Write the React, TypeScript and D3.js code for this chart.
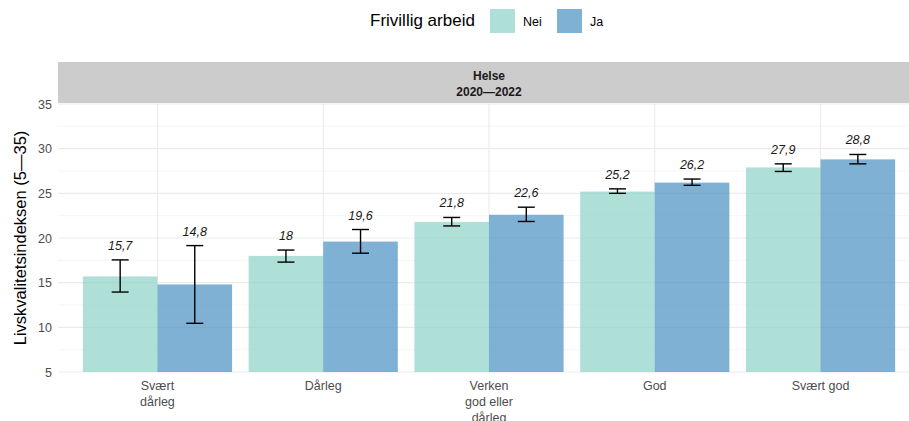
import React from "react";
import * as d3 from "d3";

const categories = ["Svært\ndårleg", "Dårleg", "Verken\ngod eller\ndårleg", "God", "Svært god"];
const groups = ["Nei", "Ja"];
const neiValues = [15.7, 18, 21.8, 25.2, 27.9];
const jaValues = [14.8, 19.6, 22.6, 26.2, 28.8];
const neiLower = [13.95, 17.3, 21.35, 25.0, 27.45];
const neiUpper = [17.55, 18.65, 22.3, 25.5, 28.3];
const jaLower = [10.45, 18.3, 21.85, 25.9, 28.3];
const jaUpper = [19.15, 20.95, 23.45, 26.6, 29.35];
const yTicks = [5, 10, 15, 20, 25, 30, 35];
const yMinor = [7.5, 12.5, 17.5, 22.5, 27.5, 32.5];
const labelTexts = [
  ["15,7", "18", "21,8", "25,2", "27,9"],
  ["14,8", "19,6", "22,6", "26,2", "28,8"],
];

const W = 909;
const H = 421;
const font = "'Liberation Sans', Arial, Helvetica, sans-serif";

export default function App() {
  const panelL = 58;
  const panelR = 920;
  const panelT = 104;
  const panelB = 372;
  const stripT = 62;

  const x = d3
    .scalePoint<number>()
    .domain(d3.range(categories.length))
    .range([panelL, panelR])
    .padding(0.6);
  const cx = (i: number) => x(i) as number;
  const unit = x.step();
  const barW = 0.45 * unit;
  const y = d3.scaleLinear().domain([5, 35]).range([panelB, panelT]);
  const fills = ["#8dd3c7", "#4890c2"];
  const vals = [neiValues, jaValues];
  const lows = [neiLower, jaLower];
  const ups = [neiUpper, jaUpper];

  return (
    <svg width={W} height={H} style={{ display: "block", position: "absolute", left: 0, top: 0 }} fontFamily={font}>
      <rect width={W} height={H} fill="#fff" />
      {/* legend */}
      <text x={370} y={26} fontSize={17} fill="#000">Frivillig arbeid</text>
      {groups.map((g, gi) => (
        <g key={g}>
          <rect x={490 + gi * 67} y={9} width={25} height={24} fill={fills[gi]} fillOpacity={0.7} />
          <text x={523 + gi * 67} y={25.5} fontSize={12.5} fill="#000">{g}</text>
        </g>
      ))}
      {/* strip */}
      <rect x={panelL} y={stripT} width={panelR - panelL} height={panelT - stripT - 1} fill="#cccccc" />
      <text x={(panelL + panelR) / 2} y={80} textAnchor="middle" fontSize={12} fontWeight="bold" fill="#1a1a1a">Helse</text>
      <text x={(panelL + panelR) / 2} y={96} textAnchor="middle" fontSize={12} fontWeight="bold" fill="#1a1a1a">2020—2022</text>
      {/* grid */}
      {yMinor.map((t) => (
        <line key={"m" + t} x1={panelL} x2={panelR} y1={y(t)} y2={y(t)} stroke="#f0f0f0" strokeWidth={0.6} />
      ))}
      {yTicks.map((t) => (
        <line key={"g" + t} x1={panelL} x2={panelR} y1={y(t)} y2={y(t)} stroke="#ebebeb" strokeWidth={1.1} />
      ))}
      {categories.map((c, i) => (
        <line key={"v" + i} x1={cx(i)} x2={cx(i)} y1={panelT} y2={panelB} stroke="#ebebeb" strokeWidth={1.1} />
      ))}
      {/* bars */}
      {categories.map((c, i) =>
        groups.map((g, gi) => (
          <rect key={c + g} x={cx(i) - barW + gi * barW} y={y(vals[gi][i])} width={barW} height={y(5) - y(vals[gi][i])} fill={fills[gi]} fillOpacity={0.7} />
        ))
      )}
      {/* error bars */}
      {categories.map((c, i) =>
        groups.map((g, gi) => {
          const bx = cx(i) - barW / 2 + gi * barW;
          const hw = 8.5;
          return (
            <g key={"e" + c + g} stroke="#000" strokeWidth={1.4}>
              <line x1={bx} x2={bx} y1={y(lows[gi][i])} y2={y(ups[gi][i])} />
              <line x1={bx - hw} x2={bx + hw} y1={y(lows[gi][i])} y2={y(lows[gi][i])} />
              <line x1={bx - hw} x2={bx + hw} y1={y(ups[gi][i])} y2={y(ups[gi][i])} />
            </g>
          );
        })
      )}
      {/* value labels */}
      {categories.map((c, i) =>
        groups.map((g, gi) => {
          const bx = cx(i) - barW / 2 + gi * barW;
          return (
            <text key={"l" + c + g} x={bx} y={y(ups[gi][i]) - 10} textAnchor="middle" fontSize={12.5} fontStyle="italic" fill="#1a1a1a">
              {labelTexts[gi][i]}
            </text>
          );
        })
      )}
      {/* y axis */}
      {yTicks.map((t) => (
        <text key={"yt" + t} x={52} y={y(t) + 4.5} textAnchor="end" fontSize={12.5} fill="#4d4d4d">{t}</text>
      ))}
      <text transform={`translate(26,${(panelT + panelB) / 2}) rotate(-90)`} textAnchor="middle" fontSize={16.5} fill="#000">
        Livskvalitetsindeksen (5—35)
      </text>
      {/* x axis */}
      {categories.map((c, i) => (
        <text key={"xt" + i} x={cx(i)} y={390} textAnchor="middle" fontSize={12.5} fill="#4d4d4d">
          {c.split("\n").map((ln, li) => (
            <tspan key={li} x={cx(i)} dy={li === 0 ? 0 : 16}>{ln}</tspan>
          ))}
        </text>
      ))}
    </svg>
  );
}
